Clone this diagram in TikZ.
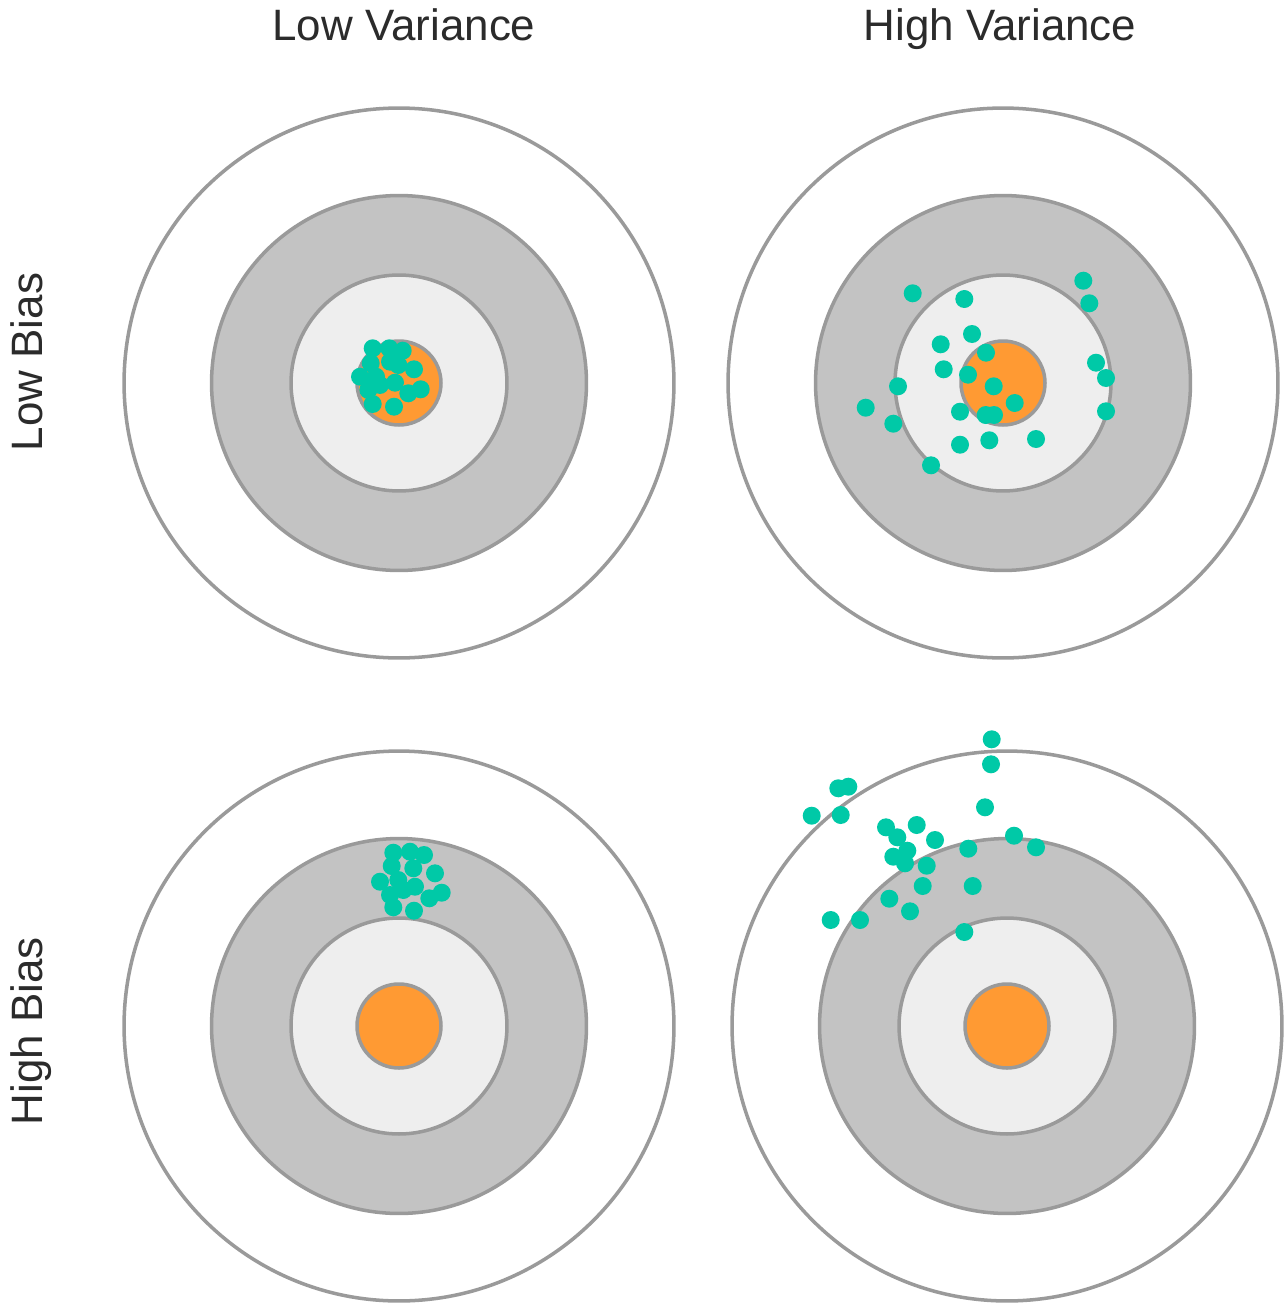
\documentclass[tikz,border=0pt]{standalone}
\usepackage{fontspec}
\setmainfont{Liberation Sans}
\definecolor{ringline}{HTML}{9A9A9A}
\definecolor{ringdark}{HTML}{C3C3C3}
\definecolor{ringlight}{HTML}{EEEEEE}
\definecolor{bullseye}{HTML}{FF9A33}
\definecolor{shot}{HTML}{00C9A7}
\definecolor{labeltext}{HTML}{2B2B2B}

\begin{document}
\begin{tikzpicture}[x=0.02cm, y=-0.02cm,
    ring/.style={ circle, draw=ringline, line width=2pt, inner sep=0pt },
    hit/.style={ fill=shot, circle, minimum size=0.36cm, inner sep=0pt },
    head/.style={ font=\fontsize{25}{30}\selectfont, text=labeltext,
      anchor=base, inner sep=0pt } ]
  \useasboundingbox (0,0) rectangle (1285,1304);
  % targets
  \foreach \cx/\cy/\t in {399/383/ll,1003/383/lh,399/1026/hl,1007/1026/hh} {
    \node[ring,fill=white,minimum size=11cm] (\t o) at (\cx,\cy) {};
    \node[ring,fill=ringdark,minimum size=7.5cm] (\t g) at (\cx,\cy) {};
    \node[ring,fill=ringlight,minimum size=4.32cm] (\t w) at (\cx,\cy) {};
    \node[ring,fill=bullseye,minimum size=1.68cm] (\t c) at (\cx,\cy) {};
  }
  % low bias, low variance
  \foreach \x/\y [count=\i] in {372.7/348.3,389.3/348.3,402.7/350.7,370.7/363.3,
      390/361.7,398.3/365,414/369.3,360/376.7,376/376.7,380/385,395/382.7,
      368.3/390,408.3/393.3,420.7/389.3,372.7/404,394/406.7}
    \node[hit] (a\i) at (\x,\y) {};
  % low bias, high variance
  \foreach \x/\y [count=\i] in {912.7/293.3,964.3/299,1083.3/280.7,1089.3/303.3,
      972/334,940.7/344.3,986/352.7,943.7/369.3,968/374.7,1096/362.7,1106/378,
      898/386.3,993.7/386.3,865.7/407.7,893.3/423.7,1014.7/403,960/411.7,
      985.7/415,994/415,1106/411.3,960/444.7,989.3/440.3,1036/439,931/465.3}
    \node[hit] (b\i) at (\x,\y) {};
  % high bias, low variance
  \foreach \x/\y [count=\i] in {393.3/852.7,410/851.7,424/855,391.7/866,
      413.3/868.3,435/873.3,380/881.7,398.3/880,415/886.7,390/895,403.3/890,
      429.3/898.3,441.7/892.7,393.3/907.3,414/910.7}
    \node[hit] (c\i) at (\x,\y) {};
  % high bias, high variance
  \foreach \x/\y [count=\i] in {991.7/739.3,991/764.3,838.3/788.3,848.3/786.7,
      811.7/815.7,840.7/815,985/807.3,886/827.3,897.3/837.3,916.7/825,935/840,
      1014/835.7,1036/847.3,968.3/848.7,893.3/856.7,907.3/850.7,905/863.3,
      926.7/865.7,922.7/886,972.7/886,889.3/898.7,910/911.3,830.7/920,860/920,
      964.3/932}
    \node[hit] (d\i) at (\x,\y) {};
  % labels
  \node[head] (lowvar) at (404,41) {Low Variance};
  \node[head] (highvar) at (1000,41) {High Variance};
  \node[head,rotate=90] (lowbias) at (42,362) {Low Bias};
  \node[head,rotate=90] (highbias) at (42,1031) {High Bias};
\end{tikzpicture}
\end{document}
